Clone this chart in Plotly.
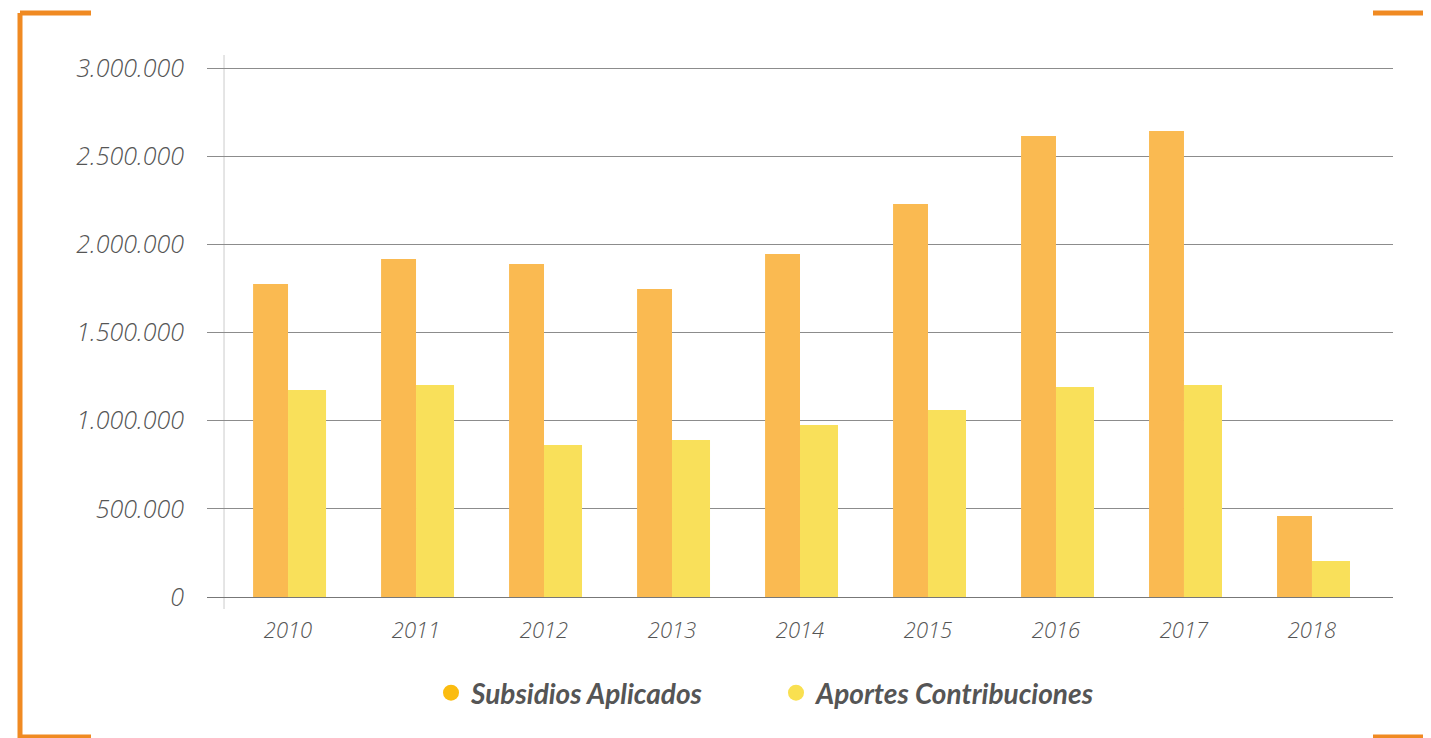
import plotly.graph_objects as go

# data
years = ["2010", "2011", "2012", "2013", "2014", "2015", "2016", "2017", "2018"]
subsidios = [1775000, 1917000, 1888000, 1747000, 1945000, 2229000, 2614000, 2643000, 459000]
aportes = [1174000, 1202000, 862000, 890000, 975000, 1060000, 1191000, 1202000, 204000]
y_ticks = [0, 500000, 1000000, 1500000, 2000000, 2500000, 3000000]
y_tick_labels = ["0", "500.000", "1.000.000", "1.500.000", "2.000.000", "2.500.000", "3.000.000"]

bar_orange = "#FABA51"
bar_yellow = "#F9E05A"
legend_orange = "#FBBC10"
legend_yellow = "#F9E050"
frame_orange = "#F08A22"

# the page body adds an 8px margin, so the figure is drawn 8px smaller
# and every screen position below is shifted back by that amount
OFF = 8
W, H = 1431 - OFF, 738 - OFF
L, R, T, B = 207 - OFF, 1393 - OFF, 55 - OFF, 607 - OFF


def px_x(p):
    return (p - OFF - L) / (R - L)


def px_y(p):
    return (B - (p - OFF)) / (B - T)


fig = go.Figure()

fig.add_trace(go.Bar(
    x=years, y=subsidios, name="Subsidios Aplicados",
    marker_color=bar_orange, marker_line_width=0,
    width=0.273, offset=-0.273, showlegend=False,
))
fig.add_trace(go.Bar(
    x=years, y=aportes, name="Aportes Contribuciones",
    marker_color=bar_yellow, marker_line_width=0,
    width=0.297, offset=0.0, showlegend=False,
))

# legend entries with round markers
for name, col in [("Subsidios Aplicados", legend_orange), ("Aportes Contribuciones", legend_yellow)]:
    fig.add_trace(go.Scatter(
        x=[None], y=[None], mode="markers", name=name,
        marker=dict(color=col, size=18, symbol="circle"),
    ))

x_tick_font = dict(family="Open Sans", size=22, color="#555555", style="italic", weight=300)
y_tick_font = dict(family="Open Sans", size=25, color="#555555", style="italic", weight=300)

fig.update_layout(
    width=W, height=H,
    margin=dict(l=L, r=W - R, t=T, b=H - B),
    plot_bgcolor="white", paper_bgcolor="white",
    barmode="overlay",
    legend=dict(
        orientation="h", x=px_x(776), y=px_y(693), xanchor="center", yanchor="middle",
        font=dict(family="Lato", size=28, color="#555555", style="italic", weight=700),
        entrywidth=300, entrywidthmode="pixels",
    ),
    xaxis=dict(
        range=[-0.633, 8.633], showgrid=False, showline=False, zeroline=False,
        tickfont=x_tick_font, ticklabelstandoff=8,
    ),
    yaxis=dict(
        range=[-56700, 3073700], tickvals=y_ticks, ticktext=y_tick_labels,
        showgrid=True, gridcolor="#8C8C8C", gridwidth=1,
        zeroline=True, zerolinecolor="#777777", zerolinewidth=1,
        showline=False, tickfont=y_tick_font, ticklabelstandoff=22,
    ),
    showlegend=True,
)

# light vertical axis line inside the plot area
fig.add_shape(type="line", xref="x", yref="paper", x0=-0.5, x1=-0.5,
              y0=px_y(609), y1=1, line=dict(color="#CCCCCC", width=1), layer="below")

# orange bracket frame around the chart (screen pixel coordinates)
frame = dict(color=frame_orange, width=5)
segments = [
    (20, 13, 91, 13),        # top left horizontal
    (20, 13, 20, 738),       # left vertical
    (20, 737, 91, 737),      # bottom left horizontal
    (1373, 13, 1431, 13),    # top right
    (1373, 737, 1431, 737),  # bottom right
]
for x0, y0, x1, y1 in segments:
    fig.add_shape(type="line", xref="paper", yref="paper",
                  x0=px_x(x0), y0=px_y(y0), x1=px_x(x1), y1=px_y(y1), line=frame)

fig.write_html("out.html")
